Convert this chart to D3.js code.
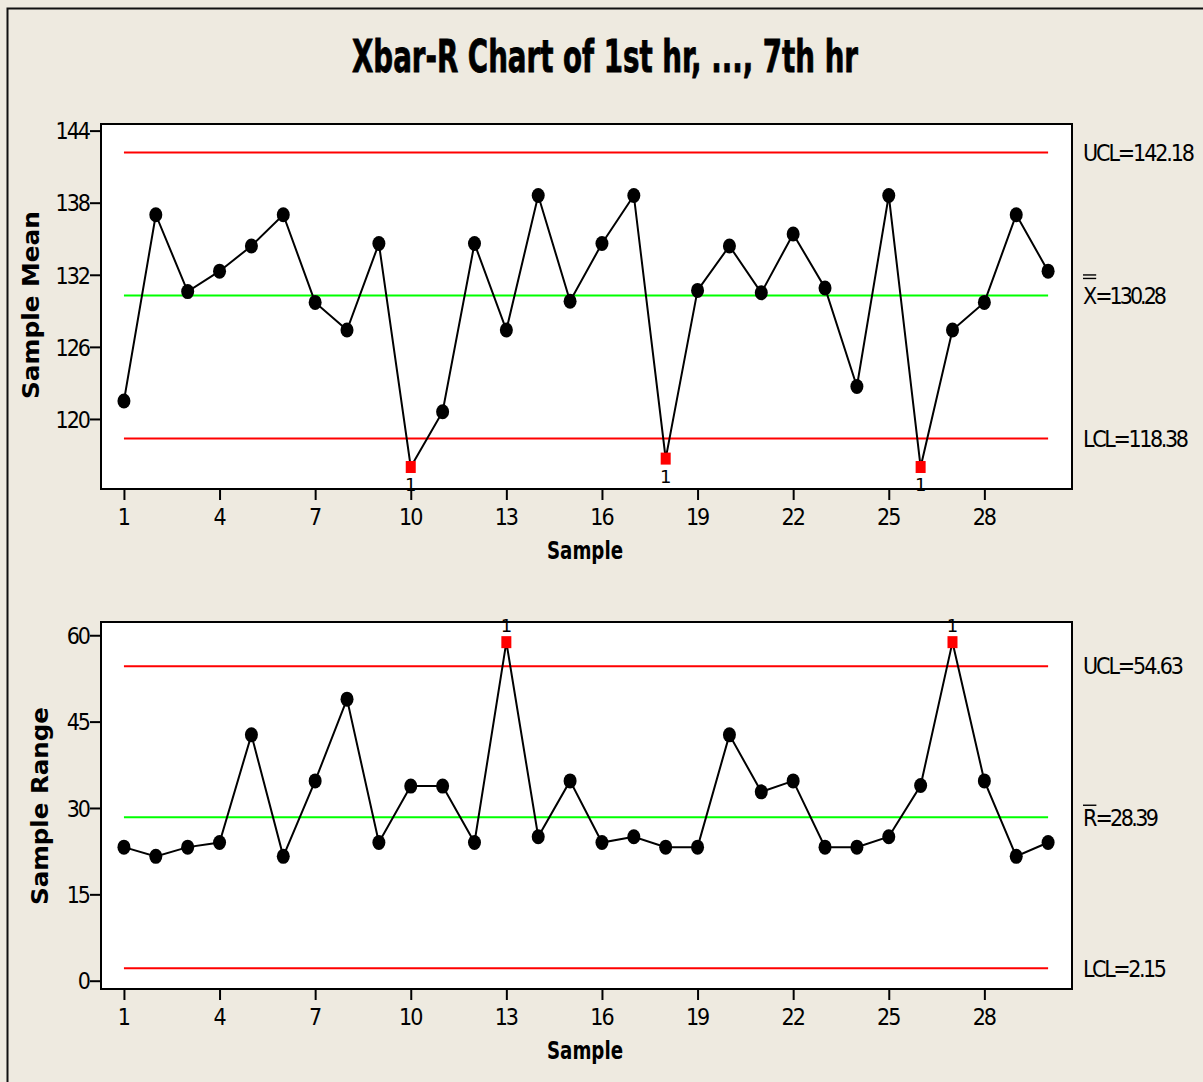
<!DOCTYPE html>
<html>
<head>
<meta charset="utf-8">
<title>Xbar-R Chart</title>
<script src="https://cdnjs.cloudflare.com/ajax/libs/d3/7.8.5/d3.min.js"></script>
<style>
  body { margin: 0; background: #EEEAE0; }
  svg { display: block; font-family: "DejaVu Sans Condensed", "DejaVu Sans", sans-serif; }
</style>
</head>
<body>
<div id="chart"></div>
<script>
// data
var samples = [1,2,3,4,5,6,7,8,9,10,11,12,13,14,15,16,17,18,19,20,21,22,23,24,25,26,27,28,29,30];
var means = [121.5,137.0,130.6,132.3,134.4,137.0,129.7,127.4,134.6,116.0,
             120.6,134.6,127.4,138.6,129.8,134.6,138.6,116.7,130.7,134.4,
             130.5,135.4,130.9,122.7,138.6,116.0,127.4,129.7,137.0,132.3];
var ranges = [23.2,21.6,23.2,24.0,42.7,21.6,34.7,48.9,24.0,33.8,
              33.8,24.0,58.8,25.0,34.7,24.0,25.0,23.2,23.2,42.7,
              32.8,34.7,23.2,23.2,25.0,33.9,58.8,34.7,21.6,24.0];
var xTicks = [1,4,7,10,13,16,19,22,25,28];
var meanTicks = [120,126,132,138,144];
var rangeTicks = [0,15,30,45,60];
var meanLimits = [142.18, 130.28, 118.38];   // UCL, centre, LCL
var rangeLimits = [54.63, 28.39, 2.15];

var W = 1203, H = 1082;
var svg = d3.select("#chart").append("svg")
    .attr("width", W)
    .attr("height", H);

svg.append("rect")
    .attr("x", 0).attr("y", 0).attr("width", W).attr("height", H)
    .attr("fill", "#EEEAE0");
svg.append("rect")
    .attr("x", 7.5).attr("y", 8.5).attr("width", W + 20).attr("height", H + 20)
    .attr("fill", "none").attr("stroke", "#111").attr("stroke-width", 2);

svg.append("text")
    .text("Xbar-R Chart of 1st hr, ..., 7th hr")
    .attr("x", 352).attr("y", 72)
    .attr("font-size", 44).attr("font-weight", "bold")
    .attr("stroke", "black").attr("stroke-width", 0.8)
    .attr("textLength", 506).attr("lengthAdjust", "spacingAndGlyphs");

var plotLeft = 101, plotRight = 1072;
var x = d3.scaleLinear().domain([0.28, 30.75]).range([plotLeft, plotRight]);

function panel(opts) {
  var y = d3.scaleLinear().domain(opts.domain).range([opts.bottom, opts.top]);
  var g = svg.append("g");

  g.append("rect")
      .attr("x", plotLeft).attr("y", opts.top)
      .attr("width", plotRight - plotLeft).attr("height", opts.bottom - opts.top)
      .attr("fill", "white").attr("stroke", "black").attr("stroke-width", 2);

  // axes
  var ax = g.append("g")
      .attr("transform", "translate(0," + opts.bottom + ")")
      .call(d3.axisBottom(x).tickValues(xTicks).tickSize(11).tickPadding(6).tickFormat(d3.format("d")));
  var ay = g.append("g")
      .attr("transform", "translate(" + plotLeft + ",0)")
      .call(d3.axisLeft(y).tickValues(opts.ticks).tickSize(11).tickPadding(1).tickFormat(d3.format("d")));
  [ax, ay].forEach(function (a) {
    a.select(".domain").remove();
    a.selectAll("line").attr("stroke", "black").attr("stroke-width", 2);
    a.selectAll("text")
        .attr("fill", "black")
        .attr("font-size", 23)
        .attr("letter-spacing", "-2px")
        .attr("font-family", "DejaVu Sans Condensed, DejaVu Sans, sans-serif");
  });
  ax.selectAll("text").attr("dy", "0.82em").attr("dx", "-1px");
  ay.selectAll("text").attr("dy", "0.36em");

  // control lines
  var colors = ["#FF0000", "#00FF00", "#FF0000"];
  opts.limits.forEach(function (v, i) {
    g.append("line")
        .attr("x1", x(samples[0])).attr("x2", x(samples[samples.length - 1]))
        .attr("y1", y(v)).attr("y2", y(v))
        .attr("stroke", colors[i]).attr("stroke-width", 2);
  });

  // control labels
  var lx = 1083;
  g.append("text").text("UCL=" + opts.limits[0].toFixed(2))
      .attr("x", lx).attr("y", y(opts.limits[0])).attr("dy", "0.36em")
      .attr("font-size", 23).attr("textLength", opts.labelW[0]);
  var sym = g.append("text").text(opts.sym)
      .attr("x", lx).attr("y", y(opts.limits[1])).attr("dy", "0.36em")
      .attr("font-size", 23).attr("letter-spacing", "-1px");
  var sw = sym.node().getComputedTextLength();
  g.append("text").text("=" + opts.limits[1].toFixed(2))
      .attr("x", lx + sw - 1).attr("y", y(opts.limits[1])).attr("dy", "0.36em")
      .attr("font-size", 23).attr("textLength", opts.labelW[1] - sw + 1);
  opts.bars.forEach(function (off) {
    g.append("line")
        .attr("x1", lx).attr("x2", lx + sw)
        .attr("y1", y(opts.limits[1]) - off).attr("y2", y(opts.limits[1]) - off)
        .attr("stroke", "black").attr("stroke-width", 1.4);
  });
  g.append("text").text("LCL=" + opts.limits[2].toFixed(2))
      .attr("x", lx).attr("y", y(opts.limits[2])).attr("dy", "0.36em")
      .attr("font-size", 23).attr("textLength", opts.labelW[2]);

  // series
  var pts = samples.map(function (s, i) { return { s: s, v: opts.values[i] }; });
  g.append("path")
      .datum(pts)
      .attr("fill", "none").attr("stroke", "black").attr("stroke-width", 2)
      .attr("d", d3.line().x(function (d) { return x(d.s); }).y(function (d) { return y(d.v); }));

  var out = function (d) { return d.v > opts.limits[0] || d.v < opts.limits[2]; };
  g.selectAll("ellipse.pt")
      .data(pts.filter(function (d) { return !out(d); }))
    .enter().append("ellipse")
      .attr("cx", function (d) { return x(d.s); })
      .attr("cy", function (d) { return y(d.v); })
      .attr("rx", 6.5).attr("ry", 7.5)
      .attr("fill", "black");
  var bad = pts.filter(out);
  g.selectAll("rect.bad")
      .data(bad)
    .enter().append("rect")
      .attr("x", function (d) { return x(d.s) - 5; })
      .attr("y", function (d) { return y(d.v) - 6; })
      .attr("width", 10).attr("height", 12)
      .attr("fill", "#FF0000");
  g.selectAll("text.flag")
      .data(bad)
    .enter().append("text")
      .text("1")
      .attr("x", function (d) { return x(d.s); })
      .attr("y", function (d) { return y(d.v) + (d.v < opts.limits[2] ? 24 : -10); })
      .attr("text-anchor", "middle")
      .attr("font-size", 18)
      .attr("font-family", "DejaVu Sans, sans-serif");

  // axis titles
  g.append("text").text("Sample")
      .attr("x", 547).attr("y", opts.bottom + 70)
      .attr("font-size", 25).attr("font-weight", "bold")
      .attr("textLength", 76).attr("lengthAdjust", "spacingAndGlyphs");
  g.append("text").text(opts.yTitle)
      .attr("transform", "translate(" + opts.yTitleX + "," + opts.yTitleMid + ") rotate(-90)")
      .attr("text-anchor", "middle")
      .attr("font-size", 23).attr("font-weight", "bold")
      .attr("textLength", opts.yTitleW).attr("lengthAdjust", "spacingAndGlyphs");
}

panel({
  top: 124, bottom: 489, domain: [114.17, 144.55],
  ticks: meanTicks, values: means, limits: meanLimits,
  sym: "X", bars: [17, 20.5], labelW: [112, 84, 106],
  yTitle: "Sample Mean", yTitleX: 39, yTitleMid: 305, yTitleW: 188
});
panel({
  top: 622, bottom: 989, domain: [-1.44, 62.3],
  ticks: rangeTicks, values: ranges, limits: rangeLimits,
  sym: "R", bars: [12], labelW: [101, 76, 84],
  yTitle: "Sample Range", yTitleX: 48, yTitleMid: 806, yTitleW: 198
});
</script>
</body>
</html>
